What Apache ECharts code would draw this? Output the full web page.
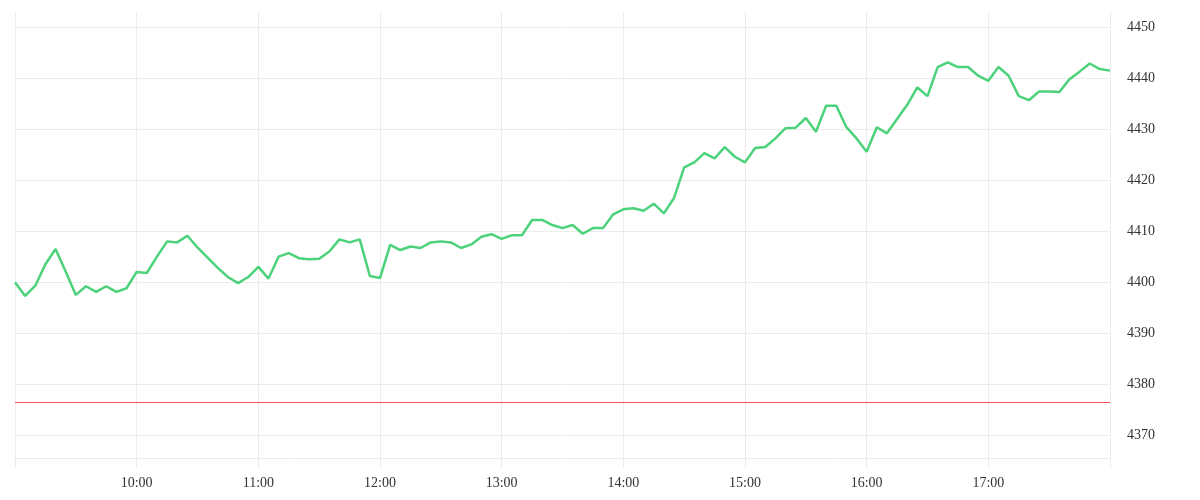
<!DOCTYPE html>
<html>
<head>
<meta charset="utf-8">
<script src="https://cdn.jsdelivr.net/npm/echarts@6/dist/echarts.min.js"></script>
<style>html,body{margin:0;padding:0;background:#fff}#c{width:1200px;height:500px}</style>
</head>
<body>
<div id="c"></div>
<script>
const startHour = 9, endHour = 18, stepMin = 5;
const times = [];
for (let m = startHour * 60; m <= endHour * 60; m += stepMin) {
  times.push(String(Math.floor(m / 60)).padStart(2, '0') + ':' + String(m % 60).padStart(2, '0'));
}
const prices = [
  4400.0, 4397.3, 4399.3, 4403.5, 4406.5, 4402.1, 4397.5, 4399.2, 4398.1, 4399.2, 4398.1, 4398.8,
  4402.0, 4401.8, 4405.0, 4408.0, 4407.8, 4409.1, 4406.8, 4404.8, 4402.8, 4401.0, 4399.8, 4401.0,
  4403.0, 4400.7, 4405.0, 4405.7, 4404.7, 4404.5, 4404.6, 4406.0, 4408.4, 4407.8, 4408.4, 4401.2,
  4400.8, 4407.3, 4406.3, 4407.0, 4406.7, 4407.8, 4408.0, 4407.8, 4406.7, 4407.4, 4408.9, 4409.4,
  4408.5, 4409.2, 4409.2, 4412.2, 4412.2, 4411.2, 4410.6, 4411.2, 4409.5, 4410.6, 4410.6, 4413.3,
  4414.3, 4414.5, 4414.0, 4415.4, 4413.5, 4416.5, 4422.5, 4423.5, 4425.3, 4424.3, 4426.5, 4424.6,
  4423.5, 4426.3, 4426.5, 4428.2, 4430.2, 4430.3, 4432.2, 4429.5, 4434.6, 4434.6, 4430.4, 4428.2,
  4425.6, 4430.4, 4429.2, 4432.0, 4434.8, 4438.2, 4436.5, 4442.2, 4443.1, 4442.2, 4442.2, 4440.5,
  4439.5, 4442.2, 4440.5, 4436.5, 4435.7, 4437.4, 4437.4, 4437.3, 4439.8, 4441.3, 4442.9, 4441.8,
  4441.5
];
const referenceLevel = 4376.45;
const yMin = 4365.5, yMax = 4453;

const hourTick = (i) => i % 12 === 0;
const hourLabel = (i) => i % 12 === 0 && i > 0 && i < times.length - 1;

const chart = echarts.init(document.getElementById('c'));
chart.setOption({
  animation: false,
  backgroundColor: '#fff',
  grid: { left: 15, right: 90, top: 12, bottom: 42 },
  xAxis: {
    type: 'category',
    data: times,
    boundaryGap: false,
    axisLine: { show: true, lineStyle: { color: '#ececec', width: 1 } },
    axisTick: { show: true, interval: hourTick, length: 10, lineStyle: { color: '#ececec' } },
    splitLine: { show: true, interval: hourTick, lineStyle: { color: '#ececec', width: 1 } },
    axisLabel: {
      interval: hourLabel,
      color: '#333',
      fontFamily: 'Liberation Serif',
      fontSize: 14,
      margin: 18
    }
  },
  yAxis: {
    type: 'value',
    position: 'right',
    min: yMin,
    max: yMax,
    splitNumber: 8,
    scale: true,
    axisLine: { show: false },
    axisTick: { show: false },
    splitLine: { show: true, showMinLine: false, showMaxLine: false, lineStyle: { color: '#ececec', width: 1 } },
    axisLabel: {
      showMinLabel: false,
      showMaxLabel: false,
      formatter: (v) => String(v),
      color: '#333',
      fontFamily: 'Liberation Serif',
      fontSize: 14,
      margin: 17
    }
  },
  series: [{
    type: 'line',
    data: prices,
    showSymbol: false,
    symbol: 'none',
    z: 3,
    lineStyle: { color: '#4cd27a', width: 2.5 },
    itemStyle: { color: '#4cd27a' },
    markLine: {
      symbol: ['none', 'none'],
      label: { show: false },
      data: [{
        yAxis: referenceLevel,
        lineStyle: { color: 'rgb(242,85,92)', width: 1.2, type: 'solid' }
      }]
    }
  }]
});
</script>
</body>
</html>
